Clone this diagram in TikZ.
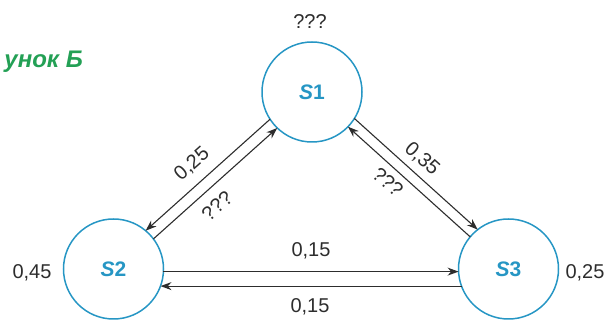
\documentclass[tikz,border=0pt]{standalone}
\usepackage{fontspec}
\setmainfont{Liberation Sans}
\usetikzlibrary{arrows.meta}
\definecolor{circblue}{RGB}{38,150,196}
\definecolor{lblgreen}{RGB}{35,160,85}
\definecolor{numgray}{RGB}{45,45,45}
\begin{document}
\begin{tikzpicture}[x=1pt,y=-1pt,
  state/.style={circle,draw=circblue,line width=1.5pt,minimum size=100pt,inner sep=0pt,outer sep=0pt,text=circblue,font=\fontsize{21}{24}\selectfont\bfseries},
  num/.style={text=numgray,font=\fontsize{20}{23}\selectfont,inner sep=0pt},
  conn/.style={draw=numgray,line width=1.1pt,-{Stealth[length=11pt,width=8pt]}}]
\useasboundingbox (0,0) rectangle (606,320);
\node[state] (S1) at (312,92) {\textit{S}1};
\node[state] (S2) at (113.5,269) {\textit{S}2};
\node[state] (S3) at (508.5,269) {\textit{S}3};
% left diagonal
\draw[conn] (S1.213) -- (S2.50);
\draw[conn] (S2.37) -- (S1.226);
% right diagonal
\draw[conn] (S1.328) -- (S3.128);
\draw[conn] (S3.140) -- (S1.316);
% horizontal
\draw[conn] (S2.357) -- (S3.183);
\draw[conn] (S3.200) -- (S2.340);
% labels
\node[num] (q1) at (310,22) {???};
\node[num] (p45) at (32,273) {0,45};
\node[num] (p25r) at (585,273) {0,25};
\node[num] (h1) at (311,251) {0,15};
\node[num] (h2) at (310,307) {0,15};
\node[num,rotate=41.6] (d1) at (192,164) {0,25};
\node[num,rotate=41.6] (d2) at (217,206) {???};
\node[num,rotate=-42] (d3) at (422,159) {0,35};
\node[num,rotate=-42] (d4) at (388,182) {???};
\node[text=lblgreen,font=\fontsize{24}{28}\selectfont\bfseries\itshape,anchor=east,inner sep=0pt] (cap) at (83,62) {унок Б};
\end{tikzpicture}
\end{document}
